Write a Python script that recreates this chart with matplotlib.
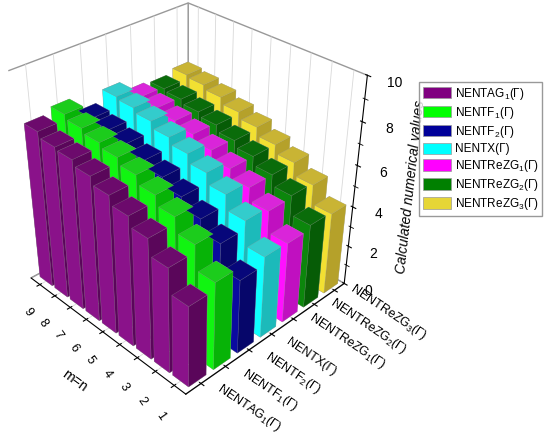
import numpy as np
import matplotlib.pyplot as plt
from matplotlib.patches import Patch

plt.rcParams['font.family'] = ['Liberation Sans', 'DejaVu Sans']
plt.rcParams['mathtext.default'] = 'regular'

# data
series_labels = ['NENTAG$_1$(Γ)', 'NENTF$_1$(Γ)', 'NENTF$_2$(Γ)', 'NENTX(Γ)',
                 'NENTReZG$_1$(Γ)', 'NENTReZG$_2$(Γ)', 'NENTReZG$_3$(Γ)']
m_values = [1, 2, 3, 4, 5, 6, 7, 8, 9]

nentag1 = [3.95, 5.1, 5.85, 6.3, 6.7, 7.05, 7.3, 7.4, 7.65]
nentf1 = [4.3, 5.45, 6.15, 6.6, 7.0, 7.3, 7.5, 7.7, 7.9]
nentf2 = [3.65, 4.8, 5.4, 5.9, 6.3, 6.6, 6.9, 7.1, 7.2]
nentx = [4.05, 5.2, 5.9, 6.4, 6.8, 7.1, 7.4, 7.6, 7.7]
nentrezg1 = [4.0, 5.0, 5.6, 6.0, 6.4, 6.7, 6.9, 7.1, 7.2]
nentrezg2 = [4.2, 5.1, 5.6, 6.0, 6.3, 6.6, 6.8, 7.0, 7.1]
nentrezg3 = [4.1, 5.0, 5.6, 6.0, 6.4, 6.7, 7.0, 7.2, 7.3]
all_series = [nentag1, nentf1, nentf2, nentx, nentrezg1, nentrezg2, nentrezg3]

# (legend / lit face, top face, shaded face)
colors = [('#8a128a', '#6c0a6c', '#5a065a'),
          ('#11f511', '#1ccc1c', '#07b307'),
          ('#0a0aa0', '#07077a', '#06066a'),
          ('#10ffff', '#33cccc', '#1cbaba'),
          ('#ff10ff', '#d925d9', '#c010c0'),
          ('#0c860c', '#0a6c0a', '#065c06'),
          ('#f2e032', '#c9b434', '#b5a12a')]
legend_colors = ['#800080', '#00ff00', '#000099', '#00ffff', '#ff00ff', '#008000', '#e6d636']

fig = plt.figure(figsize=(5.5, 4.44), dpi=100)
ax = fig.add_axes([-0.0366, 0.119, 0.7336, 0.9088], projection='3d')
ax.set_proj_type('persp', focal_length=0.45)
ax.view_init(elev=33, azim=-134)
ax.set_box_aspect((0.95, 0.97, 1.0))

dx, dy = 0.7, 0.83
xs, ys, hs, fc = [], [], [], []
for i, vals in enumerate(all_series):
    lit, top, dark = colors[i]
    for m, v in zip(m_values, vals):
        xs.append(i - dx / 2)
        ys.append(m - dy / 2)
        hs.append(v)
        # face order in bar3d: -z, +z, -y, +y, -x, +x
        fc += [top, top, dark, dark, lit, lit]

ax.bar3d(xs, ys, np.zeros(len(xs)), dx, dy, hs, color=fc, shade=False,
         edgecolor=(0.6, 0.6, 0.6, 0.5), linewidth=0.3)

ax.set_xlim(-0.6, 6.5)
ax.set_ylim(0.4, 9.6)
ax.set_zlim(0, 10)

ax.set_xticks(range(len(series_labels)))
ax.set_xticklabels(series_labels, rotation=-34, ha='left', va='center', fontsize=9)
ax.set_yticks(m_values)
ax.set_yticklabels([str(m) for m in m_values], rotation=-55, fontsize=9)
ax.set_zticks([0, 2, 4, 6, 8, 10])
ax.set_zticks([1, 3, 5, 7, 9], minor=True)
ax.tick_params(axis='z', labelsize=10)
ax.zaxis.set_ticks_position('lower')
ax.zaxis.set_label_position('lower')
ax.set_ylabel('m=n', fontsize=10, rotation=-36)
ax.set_zlabel('Calculated numerical values', fontsize=10, style='italic', rotation=90)

for axis in (ax.xaxis, ax.yaxis, ax.zaxis):
    axis.set_pane_color((1, 1, 1, 1))
    axis._axinfo['grid']['color'] = (0.85, 0.85, 0.85, 1)
    axis._axinfo['grid']['linewidth'] = 0.6
    axis._axinfo['axisline']['color'] = 'black'
ax.zaxis._axinfo['grid']['color'] = (1, 1, 1, 0)
ax.xaxis.pane.set_edgecolor('0.6')
ax.yaxis.pane.set_edgecolor('0.6')
ax.zaxis.pane.set_edgecolor('0.6')

handles = [Patch(facecolor=c, edgecolor='0.6', linewidth=0.5) for c in legend_colors]
fig.legend(handles, series_labels, loc='upper left', bbox_to_anchor=(0.762, 0.815),
           fontsize=8.5, frameon=True, fancybox=False, edgecolor='0.5',
           handlelength=2.4, handleheight=1.1, labelspacing=0.25,
           handletextpad=0.3, borderpad=0.3, borderaxespad=0)

fig.savefig('out.png', dpi=100)
